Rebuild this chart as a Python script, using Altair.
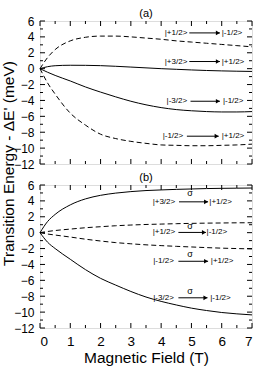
import altair as alt
import pandas as pd

# ---------------- data ----------------
B = [0, 0.25, 0.5, 1, 1.5, 2, 2.5, 3, 3.5, 4, 4.5, 5, 5.5, 6, 6.5, 7]

# panel (a)
a_dash_up = [0, 1.4, 2.4, 3.5, 3.95, 4.1, 4.1, 4.0, 3.85, 3.7, 3.5, 3.35, 3.2, 3.05, 2.9, 2.75]
a_solid_up = [0, 0.25, 0.37, 0.43, 0.42, 0.38, 0.3, 0.2, 0.1, 0.0, -0.08, -0.16, -0.23, -0.28, -0.32, -0.35]
a_solid_lo = [0, -0.45, -0.85, -1.55, -2.3, -2.95, -3.55, -4.1, -4.55, -4.9, -5.15, -5.3, -5.4, -5.45, -5.45, -5.4]
a_dash_lo = [0, -1.8, -3.2, -5.6, -7.1, -8.25, -8.8, -9.15, -9.4, -9.6, -9.65, -9.7, -9.7, -9.65, -9.6, -9.5]

# panel (b)
b_solid_up = [0, 1.4, 2.3, 3.5, 4.25, 4.7, 4.98, 5.17, 5.3, 5.38, 5.45, 5.5, 5.55, 5.58, 5.6, 5.62]
b_dash_up = [0, 0.15, 0.27, 0.45, 0.62, 0.75, 0.87, 0.96, 1.03, 1.08, 1.13, 1.17, 1.2, 1.22, 1.24, 1.25]
b_dash_lo = [0, -0.17, -0.3, -0.55, -0.82, -1.05, -1.25, -1.4, -1.53, -1.63, -1.72, -1.8, -1.88, -1.95, -2.0, -2.05]
b_solid_lo = [0, -1.2, -2.0, -3.35, -4.65, -5.75, -6.6, -7.4, -8.1, -8.65, -9.1, -9.5, -9.8, -10.05, -10.22, -10.35]

# annotations panel (a)
a_from = ["|+1/2>", "|+3/2>", "|-3/2>", "|-1/2>"]
a_to = ["|-1/2>", "|+1/2>", "|-1/2>", "|+1/2>"]
a_row_y = [4.5, 0.9, -4.1, -8.5]
a_from_x = [4.12, 4.12, 4.18, 4.05]
a_arrow_x1 = [4.93, 4.93, 4.97, 4.85]
a_arrow_x2 = [5.94, 5.94, 5.94, 5.9]
a_to_x = [6.0, 6.0, 6.04, 6.0]

# annotations panel (b)
b_from = ["|+3/2>", "|+1/2>", "|-1/2>", "|-3/2>"]
b_to = ["|+1/2>", "|-1/2>", "|+1/2>", "|-1/2>"]
b_row_y = [3.88, 0.03, -3.6, -8.2]
b_sigma_y = [5.0, 0.85, -2.65, -7.3]
b_from_x = [3.72, 3.72, 3.74, 3.74]
b_arrow_x1 = [4.59, 4.57, 4.57, 4.57]
b_arrow_x2 = [5.55, 5.48, 5.55, 5.53]
b_to_x = [5.59, 5.5, 5.64, 5.62]
b_sigma_x = [4.95, 4.95, 4.95, 4.95]
sigma = "σ"

panel_titles = ["(a)", "(b)"]
x_ticks_major = [0, 1, 2, 3, 4, 5, 6, 7]
x_ticks_minor = [0.5, 1.5, 2.5, 3.5, 4.5, 5.5, 6.5]
y_ticks_major = [-12, -10, -8, -6, -4, -2, 0, 2, 4, 6]
y_ticks_minor = [-11, -9, -7, -5, -3, -1, 1, 3, 5]

x_title = "Magnetic Field (T)"
y_title = "Transition Energy - ΔE' (meV)"

# ---------------- styling ----------------
FONT = "Liberation Sans"
W, H = 212, 143
MAJ, MIN = 5, 3

xs = alt.Scale(domain=[0, 7], nice=False, zero=False)
ys = alt.Scale(domain=[-12, 6], nice=False, zero=False)


def long_df(series):
    rows = []
    for name, vals in series.items():
        for b, e in zip(B, vals):
            rows.append({"B": b, "E": e, "s": name})
    return pd.DataFrame(rows)


def panel(solid, dashed, ann, title, bottom, ytitle):
    if bottom:
        xaxis = alt.Axis(values=x_ticks_major, format="d", title=x_title,
                         labelFontSize=13.5, labelPadding=6, titleFontSize=15.5,
                         titleFontWeight="normal", titlePadding=2.5,
                         ticks=False, tickSize=0, domain=False, grid=False,
                         labelFont=FONT, titleFont=FONT, labelColor="black",
                         titleColor="black")
    else:
        xaxis = None
    if ytitle:
        yaxis = alt.Axis(values=y_ticks_major, format="d", title=y_title,
                         labelFontSize=12, labelPadding=6, titleFontSize=15.5,
                         titleFontWeight="normal", titleX=-27, titleY=142,
                         titleAngle=270, titleAlign="center",
                         titleBaseline="alphabetic",
                         ticks=False, tickSize=0, domain=False, grid=False,
                         labelFont=FONT, titleFont=FONT, labelColor="black",
                         titleColor="black")
    else:
        yaxis = alt.Axis(values=y_ticks_major, format="d", title=None,
                         labelFontSize=12, labelPadding=6,
                         ticks=False, tickSize=0, domain=False, grid=False,
                         labelFont=FONT, labelColor="black")

    def X(f):
        return alt.X(f, scale=xs, axis=xaxis)

    def Y(f):
        return alt.Y(f, scale=ys, axis=yaxis)

    sol = alt.Chart(long_df(solid)).mark_line(
        color="black", strokeWidth=1, interpolate="monotone").encode(
        x=X("B:Q"), y=Y("E:Q"), detail="s:N")
    das = alt.Chart(long_df(dashed)).mark_line(
        color="black", strokeWidth=1, strokeDash=[5, 3],
        interpolate="monotone").encode(
        x=X("B:Q"), y=Y("E:Q"), detail="s:N")

    frm, to, ry, fx, ax1, ax2, tx = ann[:7]
    tdf = pd.DataFrame({"t": list(frm) + list(to), "x": list(fx) + list(tx),
                        "y": list(ry) + list(ry)})
    txt = alt.Chart(tdf).mark_text(align="left", baseline="middle",
                                   fontSize=8, font=FONT, color="black").encode(
        x=X("x:Q"), y=Y("y:Q"), text="t:N")
    adf = pd.DataFrame({"x1": ax1, "x2": ax2, "y": ry})
    arr = alt.Chart(adf).mark_rule(color="black", strokeWidth=1).encode(
        x=X("x1:Q"), x2="x2:Q", y=Y("y:Q"))
    head = alt.Chart(adf).mark_point(shape="triangle-right", filled=True,
                                     color="black", size=22, opacity=1).encode(
        x=X("x2:Q"), y=Y("y:Q"), xOffset=alt.value(-2))
    layers = [sol, das, txt, arr, head]
    if len(ann) > 7:
        sx, sy = ann[7], ann[8]
        sdf = pd.DataFrame({"x": sx, "y": sy, "t": [sigma] * len(sx)})
        layers.append(alt.Chart(sdf).mark_text(
            fontSize=9, font=FONT, color="black", baseline="middle").encode(
            x=X("x:Q"), y=Y("y:Q"), text="t:N"))
    ttl = alt.Chart(pd.DataFrame({"t": [title]})).mark_text(
        fontSize=11, font=FONT, color="black", baseline="middle").encode(
        text="t:N", x=alt.value(W / 2), y=alt.value(-7))
    layers.append(ttl)

    # inward ticks on all four sides
    for vals, ln in ((x_ticks_major, MAJ), (x_ticks_minor, MIN)):
        d = pd.DataFrame({"v": vals})
        base = alt.Chart(d).mark_rule(color="black", strokeWidth=1)
        layers.append(base.encode(x=X("v:Q"), y=alt.value(H), y2=alt.value(H - ln)))
        layers.append(base.encode(x=X("v:Q"), y=alt.value(0), y2=alt.value(ln)))
    for vals, ln in ((y_ticks_major, MAJ), (y_ticks_minor, MIN)):
        d = pd.DataFrame({"v": vals})
        base = alt.Chart(d).mark_rule(color="black", strokeWidth=1)
        layers.append(base.encode(y=Y("v:Q"), x=alt.value(0), x2=alt.value(ln)))
        layers.append(base.encode(y=Y("v:Q"), x=alt.value(W), x2=alt.value(W - ln)))
    return alt.layer(*layers).properties(width=W, height=H)


top = panel({"u": a_solid_up, "l": a_solid_lo}, {"u": a_dash_up, "l": a_dash_lo},
            (a_from, a_to, a_row_y, a_from_x, a_arrow_x1, a_arrow_x2, a_to_x),
            panel_titles[0], False, True)
bot = panel({"u": b_solid_up, "l": b_solid_lo}, {"u": b_dash_up, "l": b_dash_lo},
            (b_from, b_to, b_row_y, b_from_x, b_arrow_x1, b_arrow_x2, b_to_x,
             b_sigma_x, b_sigma_y),
            panel_titles[1], True, False)

chart = alt.vconcat(top, bot, spacing=21, bounds="flush").properties(
    padding={"left": 0, "top": 7, "right": 0, "bottom": 0},
).configure_view(stroke="black", strokeWidth=1).configure(
    background="white")

chart.save("out.html", embed_options={"renderer": "svg", "actions": False})
